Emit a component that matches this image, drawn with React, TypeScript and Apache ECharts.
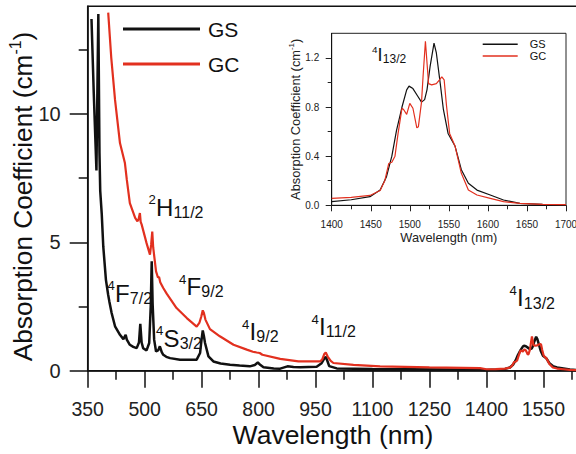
import React, { useEffect, useRef } from 'react';
import * as echarts from 'echarts';

const FONT = "'Liberation Sans', Arial, Helvetica, sans-serif";
const INK = '#111111';
const RED = '#e2301f';

// ---- GS (glass) UV-VIS-NIR absorption, wavelength (nm) / coefficient (cm-1)
const gsWavelength = [360, 366, 373, 376, 378, 381, 383, 387, 391, 398, 404, 407, 413, 422, 435, 444, 450, 453, 461, 470, 479, 485, 488.5, 492, 496, 505, 512, 516, 518.6, 521, 525, 530, 536, 540, 545, 549, 557, 567, 593, 637, 646, 649, 653, 656, 659, 668, 681, 700, 725, 750, 777, 790, 798, 805, 813, 840, 857, 876, 892, 910, 953, 966, 971, 977, 982, 986, 1006, 1100, 1200, 1300, 1380];
const gsAbs = [13.7, 10.8, 7.8, 11.5, 13.9, 8.5, 7.0, 6.1, 4.84, 3.54, 2.95, 2.7, 2.25, 1.73, 1.4, 1.23, 1.4, 1.21, 1.01, 0.93, 0.88, 1.1, 1.83, 1.1, 0.88, 0.79, 1.08, 2.5, 4.26, 2.6, 1.21, 0.75, 0.8, 0.95, 0.72, 0.62, 0.54, 0.49, 0.43, 0.43, 0.69, 1.1, 1.57, 1.35, 1.08, 0.56, 0.36, 0.28, 0.23, 0.2, 0.17, 0.22, 0.32, 0.22, 0.13, 0.09, 0.08, 0.17, 0.14, 0.13, 0.155, 0.29, 0.42, 0.55, 0.35, 0.18, 0.09, 0.07, 0.06, 0.05, 0.04];

// ---- GC (glass-ceramic)
const gcWavelength = [404, 412, 422, 435, 448, 453, 461, 475, 481, 484, 487.5, 489.5, 492, 505, 514, 517, 520, 522.5, 530, 535, 538, 541, 549, 558, 584, 611, 637, 644, 649, 653, 656, 660, 672, 698, 734, 769, 785, 795, 803, 810, 857, 905, 962, 968, 973, 977, 982, 990, 997, 1050, 1120, 1250, 1383];
const gcAbs = [13.95, 12.2, 10.55, 8.87, 8.09, 7.44, 6.53, 5.95, 5.82, 5.9, 6.14, 5.8, 5.7, 4.97, 4.52, 4.9, 5.42, 4.8, 3.87, 3.63, 3.65, 3.45, 3.22, 3.0, 2.44, 2.05, 1.72, 1.86, 2.1, 2.35, 2.25, 1.99, 1.62, 1.34, 1.01, 0.82, 0.74, 0.71, 0.69, 0.62, 0.46, 0.36, 0.36, 0.45, 0.65, 0.71, 0.55, 0.38, 0.3, 0.23, 0.17, 0.13, 0.1];

// ---- 4I13/2 band detail (1400-1700 nm)
const gsNirWavelength = [1400, 1425, 1449, 1462, 1470, 1477, 1483, 1490, 1496, 1499, 1504, 1510, 1515, 1519, 1522, 1526, 1531, 1534, 1539, 1543, 1549, 1558, 1566, 1575, 1586, 1603, 1620, 1641, 1670, 1700];
const gsNirAbs = [0.03, 0.045, 0.07, 0.124, 0.23, 0.4, 0.61, 0.8, 0.94, 0.97, 0.95, 0.89, 0.84, 0.86, 0.94, 1.13, 1.32, 1.24, 0.99, 0.78, 0.585, 0.48, 0.29, 0.18, 0.124, 0.084, 0.043, 0.016, 0.008, 0.003];
const gcNirWavelength = [1400, 1425, 1449, 1462, 1468, 1473, 1477, 1481, 1485, 1490, 1492, 1496, 1500, 1504, 1509, 1511, 1515, 1517, 1520, 1524, 1528, 1534, 1538, 1541, 1544, 1547, 1551, 1558, 1566, 1575, 1586, 1603, 1620, 1641, 1670, 1700];
const gcNirAbs = [0.057, 0.065, 0.08, 0.12, 0.2, 0.34, 0.35, 0.4, 0.585, 0.79, 0.78, 0.74, 0.83, 0.79, 0.63, 0.64, 0.84, 1.05, 1.335, 0.99, 0.98, 0.99, 1.02, 1.045, 1.02, 0.81, 0.585, 0.48, 0.26, 0.124, 0.084, 0.057, 0.03, 0.016, 0.008, 0.005];

// ---- ticks
const mainYMajor = [0, 5, 10];
const mainYMinor = [2.5, 7.5, 12.5];
const insetYMajor = [0, 0.4, 0.8, 1.2];
const insetYMinor = [0.2, 0.6, 1.0];

const seriesNames = ['GS', 'GC'];

// ---- transition annotations (layout)
const terms = [
  { sup: '2', main: 'H', sub: '11/2', x: 148.5, y: 215.7, s: 1 },
  { sup: '4', main: 'F', sub: '7/2', x: 107.5, y: 301.7, s: 1 },
  { sup: '4', main: 'S', sub: '3/2', x: 156, y: 346.7, s: 1 },
  { sup: '4', main: 'F', sub: '9/2', x: 179, y: 295, s: 1 },
  { sup: '4', main: 'I', sub: '9/2', x: 242, y: 340, s: 1 },
  { sup: '4', main: 'I', sub: '11/2', x: 311.5, y: 335, s: 1 },
  { sup: '4', main: 'I', sub: '13/2', x: 509.5, y: 306.5, s: 1 },
  { sup: '4', main: 'I', sub: '13/2', x: 372, y: 61.5, s: 0.75 },
];

const ADV: Record<string, number> = { H: 0.722, F: 0.611, S: 0.667, I: 0.278 };

const zip = (xs: number[], ys: number[]) => xs.map((x, i) => [x, ys[i]]);
const plain = (v: number) => String(v);

function termLabel(l: any) {
  const s = l.s;
  const mx = l.x + 7.4 * s;
  const base = {
    fontFamily: FONT, fill: INK,
    align: 'left', verticalAlign: 'middle', textAlign: 'left', textVerticalAlign: 'middle',
  };
  return {
    type: 'group',
    children: [
      { type: 'text', x: l.x, y: l.y - 16 * s, style: { ...base, text: l.sup, fontSize: 13.2 * s } },
      { type: 'text', x: mx, y: l.y - 8.6 * s, style: { ...base, text: l.main, fontSize: 24 * s } },
      { type: 'text', x: mx + ADV[l.main] * 24 * s + 0.3, y: l.y - 3.5 * s, style: { ...base, text: l.sub, fontSize: 16 * s } },
    ],
  };
}

function buildOption(): any {
  const axisLine = (w: number) => ({ show: true, onZero: false, lineStyle: { color: INK, width: w } });
  return {
    animation: false,
    backgroundColor: '#ffffff',
    textStyle: { fontFamily: FONT },
    grid: [
      { left: 87.7, top: 6.2, width: 512.6, height: 364.5, show: true, borderColor: INK, borderWidth: 1.5, backgroundColor: 'transparent', containLabel: false, outerBoundsMode: 'none' },
      { left: 331.7, top: 33.3, width: 234.3, height: 172, show: true, borderColor: '#222', borderWidth: 1, backgroundColor: 'transparent', containLabel: false, outerBoundsMode: 'none' },
    ],
    legend: [
      {
        data: seriesNames, orient: 'vertical', left: 123, top: 18.5, padding: 0,
        icon: 'rect', itemWidth: 77, itemHeight: 3, itemGap: 14,
        textStyle: { fontSize: 21, lineHeight: 21, color: INK, fontFamily: FONT, padding: [0, 0, 0, 3] },
        selectedMode: false,
      },
      {
        data: seriesNames, orient: 'vertical', left: 482.7, top: 38.8, padding: 0,
        icon: 'rect', itemWidth: 35, itemHeight: 1.5, itemGap: 0.7,
        textStyle: { fontSize: 11, lineHeight: 11, color: INK, fontFamily: FONT, padding: [0, 0, 0, 7] },
        selectedMode: false,
      },
    ],
    xAxis: [
      {
        gridIndex: 0, type: 'value', min: 350, max: 1700, interval: 150,
        name: 'Wavelength (nm)', nameLocation: 'middle', nameGap: 53, nameMoveOverlap: false,
        nameTextStyle: { fontSize: 26.5, lineHeight: 23, color: INK, fontFamily: FONT, padding: [0, 22, 0, 0] },
        axisLine: axisLine(1.5),
        axisTick: { show: true, length: 17, lineStyle: { color: INK, width: 1.5 } },
        minorTick: { show: true, splitNumber: 2, length: 9, lineStyle: { color: INK, width: 1.5 } },
        axisLabel: { fontSize: 19.5, lineHeight: 19, color: '#222', margin: 29, showMaxLabel: false, fontFamily: FONT, formatter: plain },
        splitLine: { show: false },
      },
      {
        gridIndex: 1, type: 'value', min: 1400, max: 1700, interval: 50,
        name: 'Wavelength (nm)', nameLocation: 'middle', nameGap: 26, nameMoveOverlap: false,
        nameTextStyle: { fontSize: 12.8, lineHeight: 12.8, color: '#222', fontFamily: FONT },
        axisLine: axisLine(1),
        axisTick: { show: true, length: 6, lineStyle: { color: '#222', width: 1 } },
        minorTick: { show: true, splitNumber: 2, length: 4, lineStyle: { color: '#222', width: 1 } },
        axisLabel: { fontSize: 10, lineHeight: 10, color: '#222', margin: 14, fontFamily: FONT, formatter: plain },
        splitLine: { show: false },
      },
    ],
    yAxis: [
      {
        gridIndex: 0, type: 'value', min: 0, max: 14.2, position: 'left',
        name: 'Absorption Coefficient (cm{sup|-1})', nameLocation: 'middle', nameGap: 50, nameMoveOverlap: false,
        nameTextStyle: {
          fontSize: 26.2, lineHeight: 30, color: INK, fontFamily: FONT, padding: [0, 16, 0, 0],
          rich: { sup: { fontSize: 16, lineHeight: 10, verticalAlign: 'top', fontFamily: FONT, color: INK } },
        },
        axisLine: axisLine(1.5),
        axisTick: { show: true, length: 18, customValues: mainYMajor, lineStyle: { color: INK, width: 1.5 } },
        axisLabel: { fontSize: 20, lineHeight: 20, color: '#222', margin: 27, customValues: mainYMajor, fontFamily: FONT, formatter: plain },
        splitLine: { show: false },
      },
      {
        gridIndex: 0, type: 'value', min: 0, max: 14.2, position: 'left', offset: 0,
        axisLine: { show: false },
        axisTick: { show: true, length: 9, customValues: mainYMinor, lineStyle: { color: INK, width: 1.5 } },
        axisLabel: { show: false },
        splitLine: { show: false },
      },
      {
        gridIndex: 1, type: 'value', min: 0, max: 1.4, position: 'left',
        name: 'Absorption Coefficient (cm{sup|-1})', nameLocation: 'middle', nameGap: 29, nameMoveOverlap: false,
        nameTextStyle: {
          fontSize: 12.8, lineHeight: 15, color: '#222', fontFamily: FONT,
          rich: { sup: { fontSize: 8, lineHeight: 5, verticalAlign: 'top', fontFamily: FONT, color: '#222' } },
        },
        axisLine: axisLine(1),
        axisTick: { show: true, length: 6, customValues: insetYMajor, lineStyle: { color: '#222', width: 1 } },
        axisLabel: {
          fontSize: 10, lineHeight: 10, color: '#222', margin: 12.5, customValues: insetYMajor, fontFamily: FONT,
          formatter: (v: number) => v.toFixed(1),
        },
        splitLine: { show: false },
      },
      {
        gridIndex: 1, type: 'value', min: 0, max: 1.4, position: 'left', offset: 0,
        axisLine: { show: false },
        axisTick: { show: true, length: 4, customValues: insetYMinor, lineStyle: { color: '#222', width: 1 } },
        axisLabel: { show: false },
        splitLine: { show: false },
      },
    ],
    series: [
      {
        type: 'line', name: 'GS', xAxisIndex: 0, yAxisIndex: 0, symbol: 'none', showSymbol: false,
        data: zip(gsWavelength.concat(gsNirWavelength), gsAbs.concat(gsNirAbs)),
        lineStyle: { color: INK, width: 2.5 }, itemStyle: { color: INK }, clip: true, z: 3,
      },
      {
        type: 'line', name: 'GC', xAxisIndex: 0, yAxisIndex: 0, symbol: 'none', showSymbol: false,
        data: zip(gcWavelength.concat(gcNirWavelength), gcAbs.concat(gcNirAbs)),
        lineStyle: { color: RED, width: 2.2 }, itemStyle: { color: RED }, clip: true, z: 4,
      },
      {
        type: 'line', name: 'GS', xAxisIndex: 1, yAxisIndex: 2, symbol: 'none', showSymbol: false,
        data: zip(gsNirWavelength, gsNirAbs),
        lineStyle: { color: INK, width: 1.2 }, itemStyle: { color: INK }, clip: true, z: 3,
      },
      {
        type: 'line', name: 'GC', xAxisIndex: 1, yAxisIndex: 2, symbol: 'none', showSymbol: false,
        data: zip(gcNirWavelength, gcNirAbs),
        lineStyle: { color: RED, width: 1.2 }, itemStyle: { color: RED }, clip: true, z: 4,
      },
    ],
    graphic: { elements: terms.map(termLabel) },
  };
}

export default function App() {
  const ref = useRef<HTMLDivElement>(null);
  useEffect(() => {
    document.body.style.margin = '0';
    const chart = echarts.init(ref.current as HTMLDivElement, undefined, { renderer: 'svg', width: 576, height: 454 });
    chart.setOption(buildOption());
    return () => chart.dispose();
  }, []);
  return <div ref={ref} style={{ width: 576, height: 454, background: '#fff', overflow: 'hidden' }} />;
}
